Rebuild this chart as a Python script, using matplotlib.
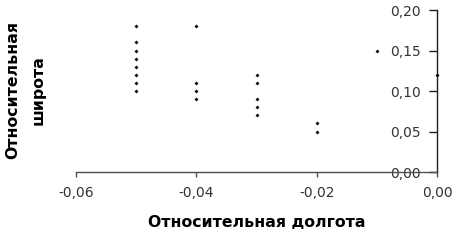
import matplotlib
matplotlib.use('Agg')
import matplotlib.pyplot as plt
import matplotlib.transforms as mtrans
from matplotlib.ticker import FuncFormatter

# relative longitude / latitude pairs
dlon = [-0.05, -0.05, -0.05, -0.05, -0.05, -0.05, -0.05, -0.05,
        -0.04, -0.04, -0.04, -0.04,
        -0.03, -0.03, -0.03, -0.03, -0.03,
        -0.02, -0.02,
        -0.01,
        0.0]
dlat = [0.18, 0.16, 0.15, 0.14, 0.13, 0.12, 0.11, 0.10,
        0.18, 0.11, 0.10, 0.09,
        0.12, 0.11, 0.09, 0.08, 0.07,
        0.06, 0.05,
        0.15,
        0.12]

xticks = [-0.06, -0.04, -0.02, 0.0]
yticks = [0.0, 0.05, 0.10, 0.15, 0.20]

plt.rcParams['font.family'] = ['DejaVu Sans']

fig = plt.figure(figsize=(4.57, 2.43), dpi=100)
ax = fig.add_axes([76 / 457, (243 - 172) / 243, (437 - 76) / 457, (172 - 10) / 243])

ax.scatter(dlon, dlat, s=4, marker='D', color='black', linewidths=0, zorder=3, clip_on=False)

ax.set_xlim(-0.06, 0.0)
ax.set_ylim(0.0, 0.20)
ax.set_xticks(xticks)
ax.set_yticks(yticks)

comma = FuncFormatter(lambda v, p: '{:.2f}'.format(v).replace('.', ','))
ax.xaxis.set_major_formatter(comma)
ax.yaxis.set_major_formatter(comma)

for s in ['top', 'left']:
    ax.spines[s].set_visible(False)
ax.spines['bottom'].set_color('#505050')
ax.spines['right'].set_color('#202020')
ax.spines['bottom'].set_linewidth(1.0)
ax.spines['right'].set_linewidth(1.0)

ax.tick_params(axis='x', direction='out', length=3.5, width=1, color='#505050',
               labelsize=10, pad=6.5, labelcolor='#333333')
ax.tick_params(axis='y', left=True, right=False, labelleft=True, direction='out',
               length=5.5, width=1, color='#202020', labelsize=10, pad=4,
               labelcolor='#333333')
# y ticks sit on the right spine (x = 0): move them there
for t in ax.yaxis.get_major_ticks():
    t.tick1line.set_transform(ax.get_yaxis_transform())
    t.tick1line.set_xdata([1.0])
    t.label1.set_x(1.0)
    t.label1.set_transform(ax.get_yaxis_transform() +
                           mtrans.ScaledTranslation(-16 / 100, 0, fig.dpi_scale_trans))

ax.set_xlabel('Относительная долгота', fontsize=11.3, fontweight='bold', labelpad=11)
fig.text(13 / 457, 1 - 90 / 243, 'Относительная', rotation=90, fontsize=11.3,
         fontweight='bold', ha='center', va='center')
fig.text(38 / 457, 1 - 90 / 243, 'широта', rotation=90, fontsize=11.3,
         fontweight='bold', ha='center', va='center')

fig.savefig('out.png', dpi=100)
